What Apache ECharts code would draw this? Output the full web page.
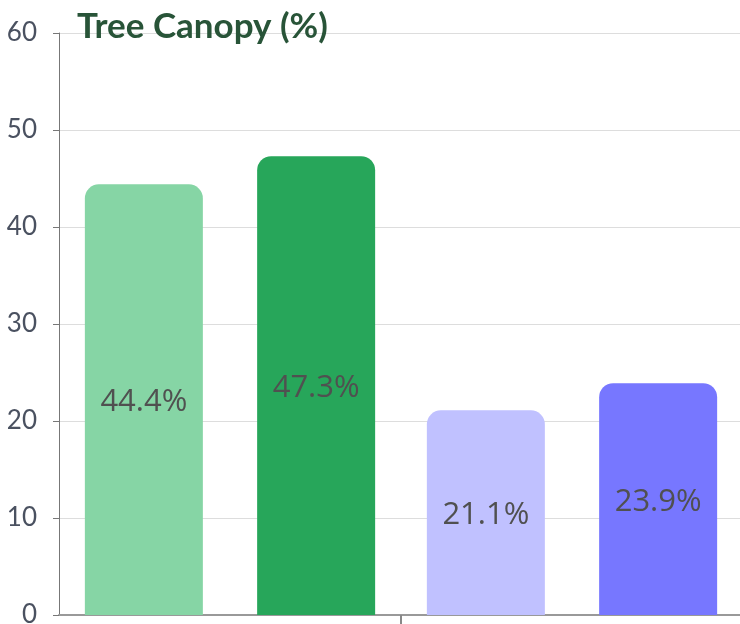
<!DOCTYPE html>
<html>
<head>
<meta charset="utf-8">
<script src="https://cdn.jsdelivr.net/npm/echarts@6/dist/echarts.min.js"></script>
<style>
html, body { margin: 0; padding: 0; background: #fff; }
#chart { width: 740px; height: 624px; }
</style>
</head>
<body>
<div id="chart"></div>
<script>
// categories and values
const categories = ['A', 'B'];
const seriesLight = [44.4, 21.1];
const seriesDark = [47.3, 23.9];
const lightColors = ['#86d5a5', '#c0c1ff'];
const darkColors = ['#27a65a', '#7777ff'];
// divider tick between the two groups (on a 0..2 helper axis)
const dividerTicks = [1];

const chart = echarts.init(document.getElementById('chart'));

const labelStyle = {
    show: true,
    position: 'inside',
    offset: [0, 3],
    fontFamily: '"Open Sans", sans-serif',
    fontSize: 31,
    color: '#505050',
    formatter: function (p) { return p.value + '%'; }
};

const option = {
    animation: false,
    title: {
        text: 'Tree Canopy (%)',
        left: 72,
        top: 4,
        textStyle: {
            fontFamily: 'Lato',
            fontWeight: 'bold',
            fontSize: 35,
            color: '#285438'
        }
    },
    grid: {
        left: 59,
        right: -3,
        top: 33,
        bottom: 9,
        outerBoundsMode: 'none'
    },
    xAxis: [
        {
            type: 'category',
            data: categories,
            axisLine: { lineStyle: { color: '#999', width: 2 } },
            axisTick: { show: false },
            axisLabel: { show: false }
        },
        {
            type: 'value',
            position: 'bottom',
            min: 0,
            max: 2,
            axisLine: { show: false },
            splitLine: { show: false },
            axisLabel: { show: false },
            axisTick: {
                show: true,
                customValues: dividerTicks,
                length: 10,
                lineStyle: { color: '#888', width: 2 }
            }
        }
    ],
    yAxis: {
        type: 'value',
        min: 0,
        max: 60,
        interval: 10,
        axisLine: { show: true, lineStyle: { color: '#777' } },
        axisTick: { show: true, length: 6, lineStyle: { color: '#777' } },
        axisLabel: {
            margin: 22,
            fontFamily: 'Lato',
            fontSize: 26,
            color: '#4a5160'
        },
        splitLine: { lineStyle: { color: '#dddddd' } }
    },
    series: [
        {
            type: 'bar',
            barWidth: 118,
            barGap: '46%',
            data: seriesLight.map(function (v, i) {
                return { value: v, itemStyle: { color: lightColors[i] } };
            }),
            itemStyle: { borderRadius: [14, 14, 0, 0] },
            label: labelStyle
        },
        {
            type: 'bar',
            barWidth: 118,
            data: seriesDark.map(function (v, i) {
                return { value: v, itemStyle: { color: darkColors[i] } };
            }),
            itemStyle: { borderRadius: [14, 14, 0, 0] },
            label: labelStyle
        }
    ]
};

chart.setOption(option);
</script>
</body>
</html>
